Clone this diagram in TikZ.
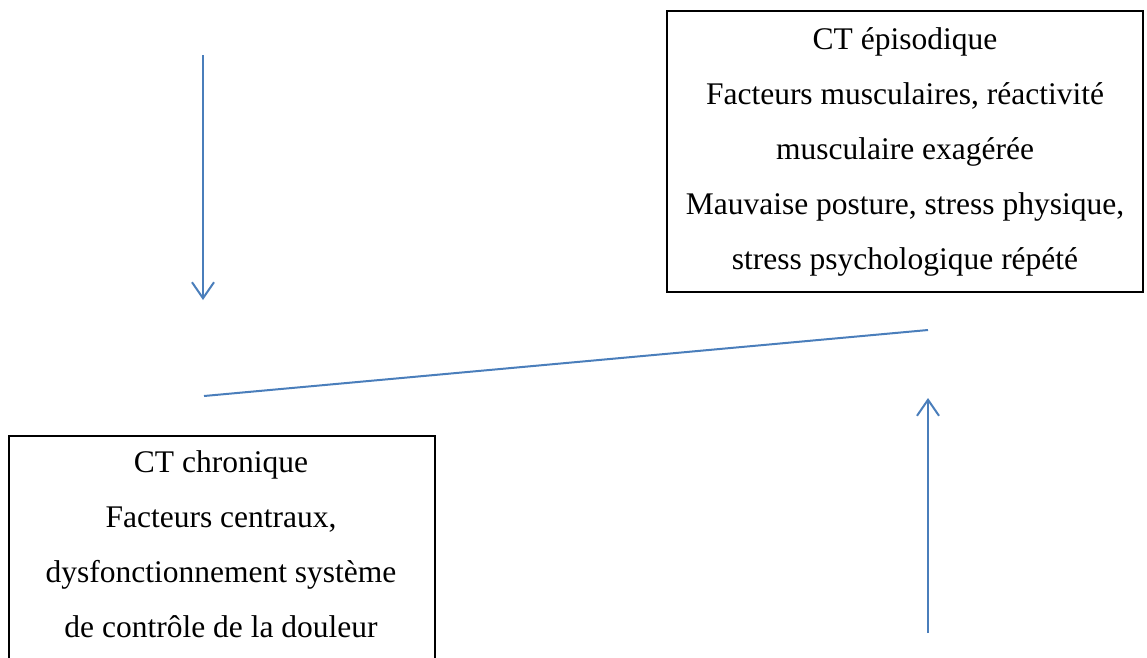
\documentclass[tikz,border=0pt]{standalone}
\usepackage{fontspec}
\setmainfont{Liberation Serif}
\usetikzlibrary{arrows.meta}
\definecolor{linkblue}{HTML}{4A7EBB}
\tikzset{
  box/.style={draw=black, line width=1.5pt, inner sep=0pt},
  txt/.style={align=center, inner sep=0pt, font=\fontsize{31.5}{55}\selectfont},
  link/.style={draw=linkblue, line width=2pt},
  linkarrow/.style={link, -{Straight Barb[length=16pt, width=22pt, line width=2pt]}}
}
\begin{document}
\begin{tikzpicture}[x=1pt, y=-1pt]
\useasboundingbox (0,0) rectangle (1147,657);
\clip (0,0) rectangle (1147,657);
% right box
\node[box, minimum width=476pt, minimum height=281pt] (epi) at (905,151.5) {};
\node[txt] (epitext) at (905,152) {CT épisodique\\Facteurs musculaires, réactivité\\musculaire exagérée\\Mauvaise posture, stress physique,\\stress psychologique répété};
% left box
\node[box, minimum width=426pt, minimum height=260pt, anchor=north west] (chron) at (8,435) {};
\node[txt] (chrontext) at (221,544) {CT chronique\\Facteurs centraux,\\dysfonctionnement système\\de contrôle de la douleur};
% connectors
\coordinate (a1s) at (203,55);
\coordinate (a1e) at (203,300);
\coordinate (l1) at (204,396);
\coordinate (l2) at (928,330);
\coordinate (a2s) at (928,633);
\coordinate (a2e) at (928,398);
\draw[linkarrow] (a1s) -- (a1e);
\draw[link] (l1) -- (l2);
\draw[linkarrow] (a2s) -- (a2e);
\end{tikzpicture}
\end{document}
